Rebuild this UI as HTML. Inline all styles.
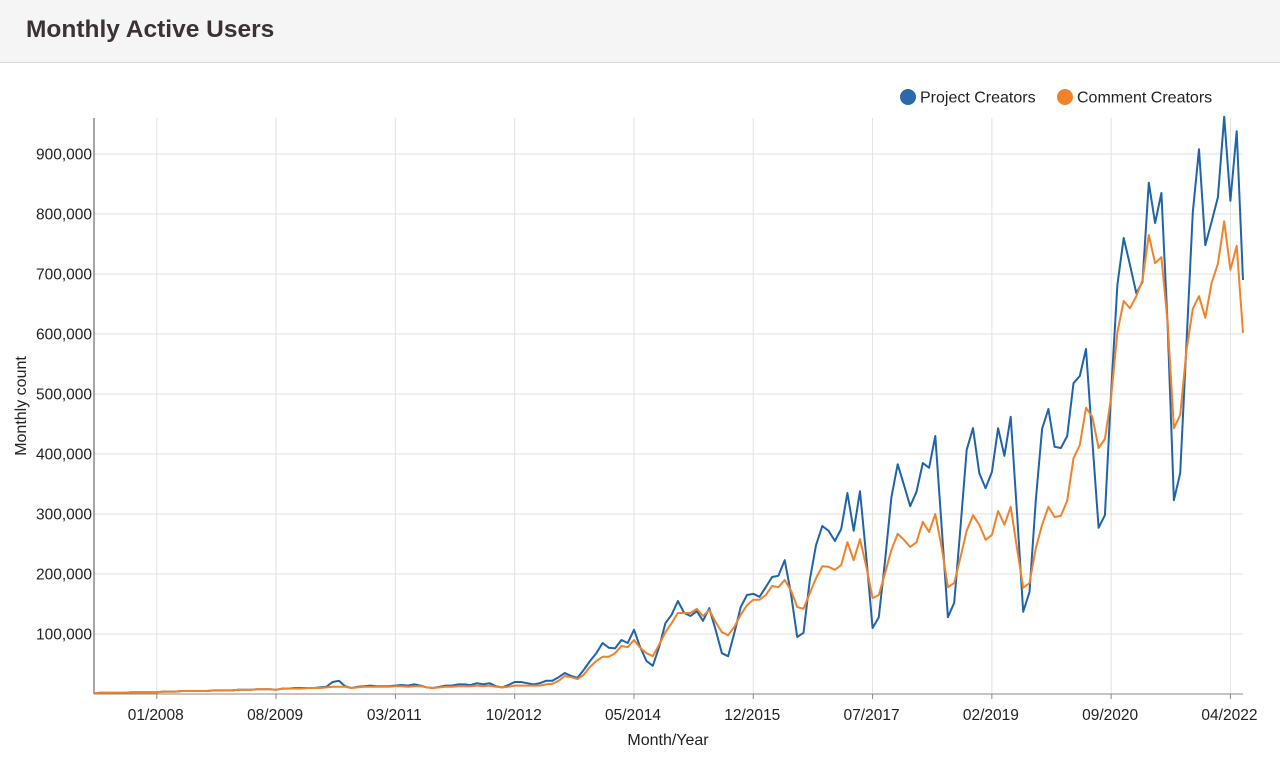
<!DOCTYPE html>
<html><head><meta charset="utf-8"><style>
body{margin:0;width:1280px;height:770px;background:#fff;font-family:"Liberation Sans",sans-serif;overflow:hidden}
#hdr{position:absolute;left:0;top:0;width:1280px;height:62px;background:#f5f5f5;border-bottom:1px solid #d8d8d8}
#hdr h1{margin:0;position:absolute;left:26px;top:16px;font-size:24.5px;font-weight:bold;color:#3b3333}
svg{position:absolute;left:0;top:0}
</style></head><body>
<div id="hdr"><h1>Monthly Active Users</h1></div>
<svg id="chart" width="1280" height="770"></svg>
<script>
const startYear = 2007, startMonth = 3;
const projectCreators = [1,2,2,2,2,2,3,3,3,3,3,4,4,4,5,5,5,5,5,6,6,6,6,7,7,7,8,8,8,7,9,9,10,10,10,10,11,12,20,22,13,10,12,13,14,13,13,13,14,15,14,16,14,11,10,12,14,14,16,16,15,18,16,18,13,11,15,20,20,18,16,18,22,22,28,35,30,27,40,55,68,85,77,76,90,85,107,78,55,47,78,118,132,155,135,130,138,122,143,107,68,63,102,145,165,167,162,178,195,197,223,168,95,102,190,248,280,272,255,275,335,272,338,228,110,128,223,328,383,348,313,337,385,377,430,280,128,152,278,407,443,368,343,370,443,397,462,302,137,170,323,442,475,412,410,430,518,530,575,423,277,298,502,682,760,715,668,687,852,785,835,612,323,368,585,803,908,748,787,828,962,822,938,690];
const commentCreators = [1,2,2,2,2,2,3,3,3,3,3,4,4,4,5,5,5,5,5,6,6,6,6,7,7,7,8,8,8,7,9,9,9,9,10,10,10,11,12,12,12,10,11,12,12,12,12,12,13,13,12,13,13,11,10,11,12,12,13,13,13,14,13,14,12,11,12,14,14,14,14,14,16,17,22,30,28,25,32,45,55,62,62,68,80,78,90,77,68,63,82,103,118,135,135,135,142,130,140,120,103,98,112,132,148,157,157,165,180,178,190,173,145,142,168,193,213,212,207,215,253,223,258,212,160,165,202,240,267,257,245,253,287,270,300,245,178,185,228,272,298,282,257,265,305,282,312,243,177,185,243,282,312,295,297,322,393,415,477,462,410,425,495,603,655,643,663,690,765,718,728,618,443,465,573,642,663,627,685,717,788,707,747,602];
const yTicks = [100000,200000,300000,400000,500000,600000,700000,800000,900000];
const xTickLabels = ["01/2008","08/2009","03/2011","10/2012","05/2014","12/2015","07/2017","02/2019","09/2020","04/2022"];

const NS="http://www.w3.org/2000/svg";
const svg=document.getElementById('chart');
const L=94,R=1243,T=118,B=694,yMax=960000;
const n=projectCreators.length;
function x(i){return L+i*(R-L)/(n-1);}
function y(v){return B-(v/yMax)*(B-T);}
function idx(lbl){const [m,yy]=lbl.split('/').map(Number);return (yy-startYear)*12+(m-startMonth);}
function mk(tag,attrs,parent){const e=document.createElementNS(NS,tag);for(const k in attrs)e.setAttribute(k,attrs[k]);(parent||svg).appendChild(e);return e;}

yTicks.forEach(v=>{
  const g=mk('line',{x1:L,x2:R,y1:y(v),y2:y(v),stroke:'#e2e2e2','stroke-width':1});
  
  
  const t=mk('text',{x:L-2,y:y(v)+5.5,'text-anchor':'end','font-size':15.5,fill:'#222'});
  t.textContent=v.toLocaleString('en-US');
  
  
});
xTickLabels.forEach(l=>{
  const xx=x(idx(l));
  const g=mk('line',{x1:xx,x2:xx,y1:T,y2:B,stroke:'#e2e2e2','stroke-width':1});
  
  
  const tk=mk('line',{x1:xx,x2:xx,y1:B,y2:B+5,stroke:'#888'});
  
  
  const t=mk('text',{x:xx-1,y:B+26,'text-anchor':'middle','font-size':15.5,fill:'#222'});
  t.textContent=l;
  
  
});
const ax=mk('line',{x1:L,x2:L,y1:T,y2:B,stroke:'#888','stroke-width':1.5});


const bx=mk('line',{x1:L,x2:R,y1:B,y2:B,stroke:'#888','stroke-width':1});



function series(arr,color,name){
  const d=arr.map((v,i)=>(i?'L':'M')+x(i).toFixed(1)+','+y(v*1000).toFixed(1)).join('');
  const p=mk('path',{d:d,fill:'none',stroke:color,'stroke-width':2,'stroke-linejoin':'round'});
  
  
}
series(projectCreators,'#1f63a8','project-creators-line');
series(commentCreators,'#f0822a','comment-creators-line');

const xt=mk('text',{x:668,y:745,'text-anchor':'middle','font-size':16,fill:'#222'});
xt.textContent='Month/Year';


const yt=mk('text',{x:26,y:406,'text-anchor':'middle','font-size':16,fill:'#222',transform:'rotate(-90 26 406)'});
yt.textContent='Monthly count';



[[908,'#2a6aab','Project Creators'],[1065,'#f0822a','Comment Creators']].forEach(([cx,c,lab])=>{
  const g=mk('g',{});
  
  
  mk('circle',{cx:cx,cy:97,r:8,fill:c},g);
  const t=mk('text',{x:cx+12,y:102.5,'font-size':16,fill:'#222'},g);
  t.textContent=lab;
});
</script>
</body></html>
